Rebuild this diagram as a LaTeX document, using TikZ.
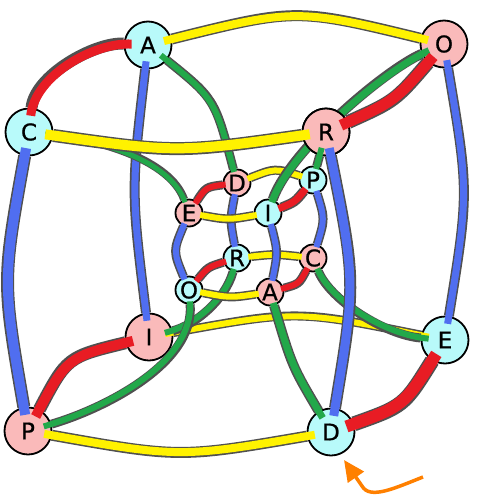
\documentclass[tikz,border=0pt]{standalone}
\usepackage{fontspec}
\setmainfont{DejaVu Sans}
\newfontfamily\lblfont[FakeBold=0.8]{DejaVu Sans}
\usetikzlibrary{arrows.meta}

\definecolor{cyanfill}{RGB}{184,250,250}
\definecolor{pinkfill}{RGB}{250,186,186}
\definecolor{redw}{RGB}{232,28,36}
\definecolor{yelw}{RGB}{255,242,0}
\definecolor{bluew}{RGB}{80,110,240}
\definecolor{greenw}{RGB}{34,168,74}
\definecolor{rimgray}{RGB}{80,80,80}
\definecolor{hintorange}{RGB}{255,128,0}

% colour, width, from, to, kind of from, kind of to, route
\newcommand\wire[7]{%
  \pgfmathsetmacro\rimw{#2+3}%
  \draw[rim, line width=\rimw pt] (#3) #7 (#4);
  \draw[#1, line width=#2pt, tail #5, head #6] (#3) #7 (#4);}

\begin{document}
\begin{tikzpicture}[
  x=1pt, y=-1pt,
  vertex/.style={circle, draw, line width=1.8pt, inner sep=0pt,
    font=\lblfont\fontsize{23}{23}\selectfont},
  big/.style={vertex, minimum size=47pt},
  small/.style={vertex, minimum size=27pt},
  pv/.style={fill=pinkfill},
  cv/.style={fill=cyanfill},
  rim/.style={draw=rimgray},
  tail o/.style={shorten <=-8pt}, tail i/.style={shorten <=-3pt},
  head o/.style={shorten >=-8pt}, head i/.style={shorten >=-3pt},
  hint/.style={draw=hintorange, line width=3.5pt,
    -{Triangle[length=21pt,width=19pt]}}
]
\path[use as bounding box, fill=white] (0,0) rectangle (477,504);

% outer cube
\node[big,cv] (Ao) at (148,45) {A};
\node[big,pv] (Oo) at (444,44) {O};
\node[big,cv] (Co) at (29,132) {C};
\node[big,pv] (Ro) at (326,132) {R};
\node[big,pv] (Io) at (149,337) {I};
\node[big,cv] (Eo) at (445,340) {E};
\node[big,pv] (Po) at (28,431) {P};
\node[big,cv] (Do) at (331,432) {D};

% inner cube
\node[small,pv] (Di) at (237,183) {D};
\node[small,cv] (Pi) at (313,180) {P};
\node[small,pv] (Ei) at (189,213) {E};
\node[small,cv] (Ii) at (268,213) {I};
\node[small,cv] (Ri) at (237,258) {R};
\node[small,pv] (Ci) at (313,258) {C};
\node[small,cv] (Oi) at (189,290) {O};
\node[small,pv] (Ai) at (270,292) {A};

% back edges
\wire{yelw}{6}{Io}{Eo}{o}{o}{.. controls (297,310) ..}
\wire{bluew}{7}{Ao}{Io}{o}{o}{.. controls (131,191) ..}

% outer to inner
\wire{greenw}{6}{Ao}{Di}{o}{i}{.. controls (215,99) ..}
\wire{greenw}{5}{Co}{Ei}{o}{i}{.. controls (100,140) and (170,160) ..}
\wire{greenw}{6}{Io}{Ri}{o}{i}{.. controls (195,325) and (225,300) ..}
\wire{greenw}{6}{Po}{Oi}{o}{i}{.. controls (100,410) and (195,365) ..}
\wire{greenw}{6}{Eo}{Ci}{o}{i}{.. controls (385,335) and (330,300) ..}
\wire{greenw}{7}{Do}{Ai}{o}{i}{.. controls (292,366) ..}

% inner edges
\wire{bluew}{6}{Di}{Ri}{i}{i}{.. controls (230,220) ..}
\wire{redw}{6}{Di}{Ei}{i}{i}{.. controls (206,187) ..}
\wire{yelw}{6}{Di}{Pi}{i}{i}{.. controls (275,168) ..}
\wire{bluew}{6}{Ei}{Oi}{i}{i}{.. controls (173,251) ..}
\wire{yelw}{6}{Ei}{Ii}{i}{i}{.. controls (228,220) ..}
\wire{redw}{6}{Ri}{Oi}{i}{i}{.. controls (208,267) ..}
\wire{redw}{7}{Pi}{Ii}{i}{i}{.. controls (295,202) ..}
\wire{bluew}{6}{Pi}{Ci}{i}{i}{.. controls (325,219) ..}
\wire{yelw}{6}{Ri}{Ci}{i}{i}{.. controls (275,254) ..}
\wire{bluew}{6}{Ii}{Ai}{i}{i}{.. controls (278,252) ..}
\wire{redw}{6}{Ci}{Ai}{i}{i}{.. controls (299,284) ..}
\wire{yelw}{6}{Oi}{Ai}{i}{i}{.. controls (230,298) ..}

% passes behind R
\wire{greenw}{7}{Oo}{Ii}{o}{i}{.. controls (385,70) and (290,150) ..}
\node[big,pv] (Rtop) at (Ro) {R};

% front edges
\wire{yelw}{10}{Co}{Ro}{o}{o}{.. controls (177,153) ..}
\wire{redw}{11}{Oo}{Ro}{o}{o}{.. controls (395,101) ..}
\wire{bluew}{9}{Ro}{Do}{o}{o}{.. controls (356,282) ..}
\wire{greenw}{6}{Ro}{Pi}{o}{i}{--}
\wire{yelw}{8}{Ao}{Oo}{o}{o}{.. controls (296,8) ..}
\wire{redw}{9}{Ao}{Co}{o}{o}{.. controls (95,42) and (35,75) ..}
\wire{bluew}{7}{Oo}{Eo}{o}{o}{.. controls (469,192) ..}
\wire{bluew}{10}{Co}{Po}{o}{o}{.. controls (2,281) ..}
\wire{redw}{10}{Io}{Po}{o}{o}{.. controls (67,357) ..}
\wire{redw}{12}{Eo}{Do}{o}{o}{.. controls (404,406) ..}
\wire{yelw}{8}{Po}{Do}{o}{o}{.. controls (180,458) ..}

% orange hint
\coordinate (hintTail) at (423,477);
\coordinate (hintTip) at (344,460);
\draw[hint] (hintTail) .. controls (395,488) and (370,500) .. (362,486) -- (hintTip);
\end{tikzpicture}
\end{document}
